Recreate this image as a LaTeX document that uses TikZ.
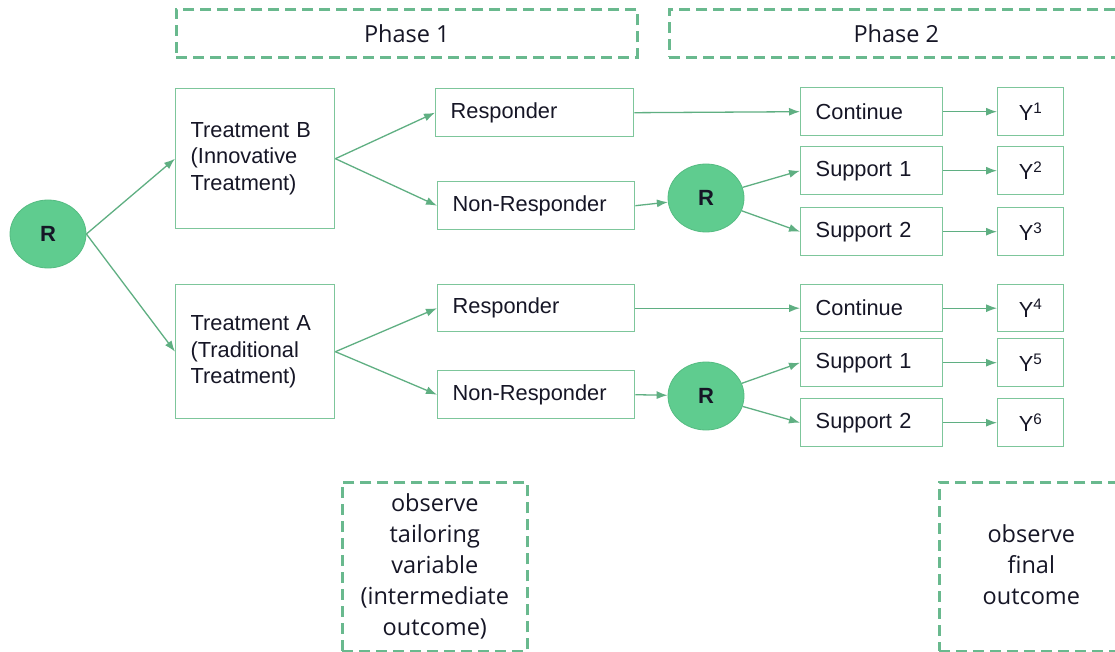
\documentclass[tikz,border=0pt]{standalone}
\usepackage{fontspec}
\setmainfont{Liberation Sans}
\newfontfamily\osans{Open Sans}
\usetikzlibrary{arrows.meta,shapes.geometric}
\definecolor{boxg}{RGB}{125,198,155}
\definecolor{arrg}{RGB}{95,175,130}
\definecolor{dashg}{RGB}{105,185,142}
\definecolor{circf}{RGB}{95,204,143}
\definecolor{circd}{RGB}{85,188,130}
\definecolor{txt}{RGB}{22,22,38}
\newcommand{\ml}[1]{\begin{tabular}{@{}l@{}}#1\end{tabular}}
\newcommand{\mc}[1]{\begin{tabular}{@{}c@{}}#1\end{tabular}}
\begin{document}
\begin{tikzpicture}[x=1pt,y=-1pt,
  box/.style 2 args={draw=boxg,line width=1.4pt,rectangle,inner xsep=15pt,inner ysep=0pt,
    text width=#1-30pt,minimum height=#2,align=left,anchor=north west,text=txt,
    font=\fontsize{21.8}{26.5}\selectfont},
  ybox/.style={draw=boxg,line width=1.4pt,rectangle,inner sep=0pt,
    minimum width=66pt,minimum height=48pt,anchor=north west,text=txt,
    font=\fontsize{21.8}{26.5}\selectfont},
  rnode/.style={ellipse,draw=circd,line width=0.8pt,fill=circf,minimum width=76pt,
    minimum height=68pt,inner sep=0pt,text=txt,font=\fontsize{22}{26}\selectfont\bfseries},
  dbox/.style={draw=dashg,line width=2.6pt,dash pattern=on 11pt off 6pt,rectangle,
    anchor=north west,inner sep=0pt,text=txt,align=center},
  arr/.style={draw=arrg,line width=1.3pt,-{Latex[length=11pt,width=8pt]}}]
\clip (0,0) rectangle (1115,652);
\fill[white] (0,0) rectangle (1115,652);

% phase boxes
\node[dbox,minimum width=461pt,minimum height=48pt,font=\osans\fontsize{23.5}{28}\selectfont] (P1) at (175,8) {Phase 1};
\node[dbox,minimum width=454pt,minimum height=48pt,font=\osans\fontsize{23.5}{28}\selectfont] (P2) at (668,8) {Phase 2};

% observe boxes
\node[dbox,minimum width=185pt,minimum height=169pt,font=\osans\fontsize{23.5}{31}\selectfont] (O1) at (341,481)
  {\mc{observe\\tailoring\\variable\\(intermediate\\outcome)}};
\node[dbox,minimum width=184pt,minimum height=169pt,font=\osans\fontsize{23.5}{31}\selectfont] (O2) at (938,481)
  {\mc{observe\\final\\outcome}};

% randomisation
\node[rnode] (R1) at (48,234) {R};
\node[rnode] (R2) at (706,198) {R};
\node[rnode] (R3) at (706,396) {R};

% treatments
\node[box={159pt}{140pt}] (TB) at (175,88) {\ml{Treatment B\\(Innovative\\Treatment)}};
\node[box={159pt}{134pt}] (TA) at (175,284) {\ml{Treatment A\\(Traditional\\Treatment)}};

% responders
\node[box={198pt}{48pt}] (RB) at (435,88) {Responder};
\node[box={197pt}{48pt}] (NB) at (437,181) {Non-Responder};
\node[box={197pt}{47pt}] (RA) at (437,284) {Responder};
\node[box={197pt}{48pt}] (NA) at (437,370) {Non-Responder};

% second stage
\node[box={142pt}{48pt}] (C1) at (800,87) {Continue};
\node[box={142pt}{48pt}] (S1) at (800,146) {Support 1};
\node[box={142pt}{48pt}] (S2) at (800,207) {Support 2};
\node[box={142pt}{47pt}] (C2) at (800,284) {Continue};
\node[box={142pt}{48pt}] (S3) at (800,338) {Support 1};
\node[box={142pt}{48pt}] (S4) at (800,398) {Support 2};

% outcomes
\node[ybox] (Y1) at (997,87) {Y\textsuperscript{1}};
\node[ybox] (Y2) at (997,146) {Y\textsuperscript{2}};
\node[ybox] (Y3) at (997,207) {Y\textsuperscript{3}};
\node[ybox,minimum height=47pt] (Y4) at (997,284) {Y\textsuperscript{4}};
\node[ybox] (Y5) at (997,338) {Y\textsuperscript{5}};
\node[ybox] (Y6) at (997,398) {Y\textsuperscript{6}};

% connectors
\draw[arr] (R1.east) -- (TB.west);
\draw[arr] (R1.east) -- (TA.west);
\draw[arr] (TB.east) -- (RB.west);
\draw[arr] (TB.east) -- (NB.west);
\draw[arr] (TA.east) -- (RA.west);
\draw[arr] (TA.east) -- (NA.west);
\draw[arr] (RB.east) -- (C1.west);
\draw[arr] (RA.east) -- (C2.west);
\draw[arr] (NB.east) -- (R2);
\draw[arr] (NA.east) -- (R3);
\draw[arr] (R2) -- (S1.west);
\draw[arr] (R2) -- (S2.west);
\draw[arr] (R3) -- (S3.west);
\draw[arr] (R3) -- (S4.west);
\draw[arr] (C1.east) -- (Y1.west);
\draw[arr] (S1.east) -- (Y2.west);
\draw[arr] (S2.east) -- (Y3.west);
\draw[arr] (C2.east) -- (Y4.west);
\draw[arr] (S3.east) -- (Y5.west);
\draw[arr] (S4.east) -- (Y6.west);
\end{tikzpicture}
\end{document}
